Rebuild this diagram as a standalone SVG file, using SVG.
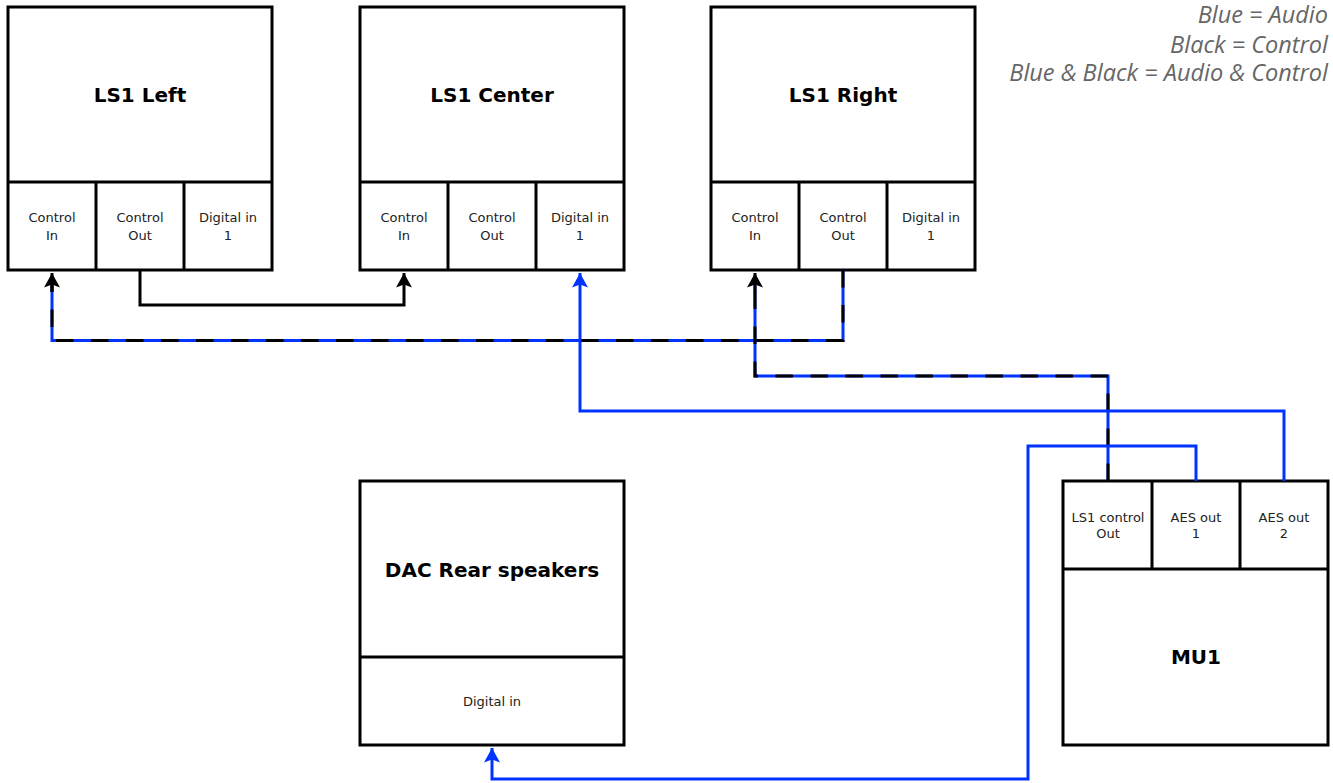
<svg xmlns="http://www.w3.org/2000/svg" width="1333" height="783" viewBox="0 0 1333 783">
<defs>
<marker id="ab" viewBox="0 0 18 18" markerWidth="18" markerHeight="18" refX="16" refY="9" orient="auto" markerUnits="userSpaceOnUse">
<path d="M16,9 L1.5,1 L4.5,9 L1.5,17 Z" fill="#000"/>
</marker>
<marker id="au" viewBox="0 0 18 18" markerWidth="18" markerHeight="18" refX="16" refY="9" orient="auto" markerUnits="userSpaceOnUse">
<path d="M16,9 L1.5,1 L4.5,9 L1.5,17 Z" fill="#0033ff"/>
</marker>
</defs>
<style>
.box{fill:#fff;stroke:#000;stroke-width:3}
.t{font-family:"DejaVu Sans",sans-serif;font-weight:bold;font-size:20px;text-anchor:middle;fill:#000}
.c{font-family:"DejaVu Sans",sans-serif;font-size:13px;text-anchor:middle;fill:#222}
.lg{font-family:"Open Sans",sans-serif;font-style:italic;font-size:23.5px;text-anchor:end;fill:#666}
.blk{fill:none;stroke:#000;stroke-width:3}
.blu{fill:none;stroke:#0033ff;stroke-width:3}
.dsh{fill:none;stroke:#000;stroke-width:3;stroke-dasharray:17.5 17.5}
</style>
<g id="legend">
<text class="lg" x="1328" y="23">Blue = Audio</text>
<text class="lg" x="1328" y="52.5">Black = Control</text>
<text class="lg" x="1328" y="81">Blue &amp; Black = Audio &amp; Control</text>
</g>
<g id="ls1-left">
<rect class="box" x="8" y="7" width="264" height="263"/>
<line class="blk" x1="8" y1="182" x2="272" y2="182"/>
<line class="blk" x1="96" y1="182" x2="96" y2="270"/>
<line class="blk" x1="184" y1="182" x2="184" y2="270"/>
<text class="t" x="140" y="102">LS1 Left</text>
<text class="c" x="52" y="222">Control</text><text class="c" x="52" y="240">In</text>
<text class="c" x="140" y="222">Control</text><text class="c" x="140" y="240">Out</text>
<text class="c" x="228" y="222">Digital in</text><text class="c" x="228" y="240">1</text>
</g>
<g id="ls1-center">
<rect class="box" x="360" y="7" width="264" height="263"/>
<line class="blk" x1="360" y1="182" x2="624" y2="182"/>
<line class="blk" x1="448" y1="182" x2="448" y2="270"/>
<line class="blk" x1="536" y1="182" x2="536" y2="270"/>
<text class="t" x="492" y="102">LS1 Center</text>
<text class="c" x="404" y="222">Control</text><text class="c" x="404" y="240">In</text>
<text class="c" x="492" y="222">Control</text><text class="c" x="492" y="240">Out</text>
<text class="c" x="580" y="222">Digital in</text><text class="c" x="580" y="240">1</text>
</g>
<g id="ls1-right">
<rect class="box" x="711" y="7" width="264" height="263"/>
<line class="blk" x1="711" y1="182" x2="975" y2="182"/>
<line class="blk" x1="799" y1="182" x2="799" y2="270"/>
<line class="blk" x1="887" y1="182" x2="887" y2="270"/>
<text class="t" x="843" y="102">LS1 Right</text>
<text class="c" x="755" y="222">Control</text><text class="c" x="755" y="240">In</text>
<text class="c" x="843" y="222">Control</text><text class="c" x="843" y="240">Out</text>
<text class="c" x="931" y="222">Digital in</text><text class="c" x="931" y="240">1</text>
</g>
<g id="dac">
<rect class="box" x="360" y="481" width="264" height="264"/>
<line class="blk" x1="360" y1="657" x2="624" y2="657"/>
<text class="t" x="492" y="577">DAC Rear speakers</text>
<text class="c" x="492" y="706">Digital in</text>
</g>
<g id="mu1">
<rect class="box" x="1063" y="481" width="265" height="264"/>
<line class="blk" x1="1063" y1="569" x2="1328" y2="569"/>
<line class="blk" x1="1152" y1="481" x2="1152" y2="569"/>
<line class="blk" x1="1240" y1="481" x2="1240" y2="569"/>
<text class="t" x="1196" y="664">MU1</text>
<text class="c" x="1108" y="522">LS1 control</text><text class="c" x="1108" y="538">Out</text>
<text class="c" x="1196" y="522">AES out</text><text class="c" x="1196" y="538">1</text>
<text class="c" x="1284" y="522">AES out</text><text class="c" x="1284" y="538">2</text>
</g>
<g id="connectors">
<path class="blk" d="M140,270 V305 H404 V273" marker-end="url(#ab)"/>
<path class="blu" d="M843,270 V340.5 H52 V285"/>
<path class="dsh" d="M843,270 V340.5 H52 V285"/>
<path class="blk" d="M52,292 V273" marker-end="url(#ab)"/>
<path class="blu" d="M1108,481 V376 H755 V285"/>
<path class="dsh" d="M1108,481 V376 H755 V285"/>
<path class="blk" d="M755,292 V273" marker-end="url(#ab)"/>
<path class="blu" d="M1284,481 V411 H580 V273" marker-end="url(#au)"/>
<path class="blu" d="M1196,481 V446 H1028 V779 H492 V748" marker-end="url(#au)"/>
</g>
</svg>
